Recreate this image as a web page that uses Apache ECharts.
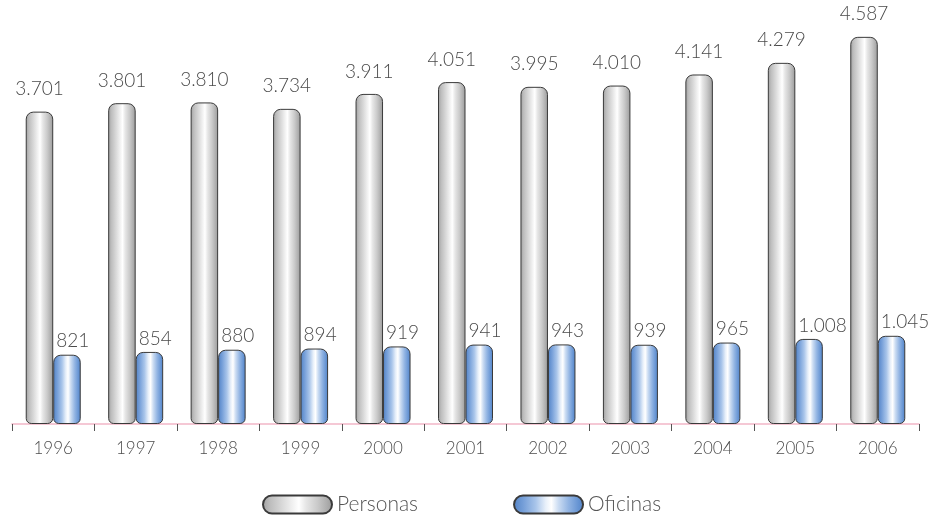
<!DOCTYPE html>
<html>
<head>
<meta charset="utf-8">
<title>Personas y Oficinas 1996-2006</title>
<script src="https://cdn.jsdelivr.net/npm/echarts@6/dist/echarts.min.js"></script>
<style>
  html, body { margin: 0; padding: 0; background: #ffffff; }
  #chart { width: 931px; height: 517px; }
</style>
</head>
<body>
<div id="chart"></div>
<script>
const years = ['1996', '1997', '1998', '1999', '2000', '2001', '2002', '2003', '2004', '2005', '2006'];
const personas = [3701, 3801, 3810, 3734, 3911, 4051, 3995, 4010, 4141, 4279, 4587];
const oficinas = [821, 854, 880, 894, 919, 941, 943, 939, 965, 1008, 1045];

// Thousands separator as a dot: 3701 -> "3.701"
function fmt(v) {
  return String(v).replace(/\B(?=(\d{3})+(?!\d))/g, '.');
}

const G = echarts.graphic.LinearGradient;
const grayFill = new G(0, 0, 1, 0, [
  { offset: 0.00, color: '#a0a0a0' },
  { offset: 0.12, color: '#bebebe' },
  { offset: 0.28, color: '#d8d8d8' },
  { offset: 0.42, color: '#efefef' },
  { offset: 0.52, color: '#ffffff' },
  { offset: 0.62, color: '#e6e6e6' },
  { offset: 0.78, color: '#cacaca' },
  { offset: 0.92, color: '#acacac' },
  { offset: 1.00, color: '#999999' }
]);
const blueFill = new G(0, 0, 1, 0, [
  { offset: 0.00, color: '#5182c6' },
  { offset: 0.15, color: '#77a0d9' },
  { offset: 0.32, color: '#a9c5ea' },
  { offset: 0.46, color: '#e8f0fa' },
  { offset: 0.54, color: '#ffffff' },
  { offset: 0.64, color: '#cbdcf2' },
  { offset: 0.78, color: '#93b5e3' },
  { offset: 0.92, color: '#6694d3' },
  { offset: 1.00, color: '#5182c6' }
]);

const pill = 'path://M9,0 L60,0 A9,9 0 0 1 60,18 L9,18 A9,9 0 0 1 9,0 Z';
const labelFont = 'Lato, "DejaVu Sans", sans-serif';
const BAR_W = 27.5;

const chart = echarts.init(document.getElementById('chart'), null, { renderer: 'canvas' });
chart.setOption({
  animation: false,
  backgroundColor: '#ffffff',
  grid: { left: 12, right: 12, top: 2, bottom: 93, containLabel: false },
  legend: {
    left: 257,
    top: 489,
    itemWidth: 69,
    itemHeight: 18,
    itemGap: 95,
    textStyle: { fontFamily: labelFont, fontWeight: 300, fontSize: 21, color: '#555555' },
    data: [
      { name: 'Personas', icon: pill },
      { name: 'Oficinas', icon: pill }
    ]
  },
  xAxis: {
    type: 'category',
    data: years,
    offset: 2,
    axisLine: { lineStyle: { color: '#f2b6c8', width: 1.5 } },
    axisTick: { show: true, length: 7, lineStyle: { color: '#555555', width: 1 } },
    axisLabel: { margin: 14, fontFamily: labelFont, fontWeight: 300, fontSize: 17, color: '#4d4d4d' }
  },
  yAxis: {
    type: 'value',
    min: 0,
    max: 5000,
    show: false,
    splitLine: { show: false }
  },
  series: [
    {
      name: 'Personas',
      type: 'bar',
      data: personas,
      barWidth: BAR_W,
      barGap: '0%',
      itemStyle: { color: grayFill, borderColor: '#3a3a3a', borderWidth: 1, borderRadius: [7, 7, 5, 5] },
      label: {
        show: true,
        position: 'top',
        distance: 13,
        formatter: p => fmt(p.value),
        fontFamily: labelFont,
        fontWeight: 300,
        fontSize: 19,
        color: '#4a4a4a'
      }
    },
    {
      name: 'Oficinas',
      type: 'bar',
      data: oficinas,
      barWidth: BAR_W,
      barGap: '0%',
      itemStyle: { color: blueFill, borderColor: '#3a3a3a', borderWidth: 1, borderRadius: [7, 7, 5, 5] },
      label: {
        show: true,
        position: 'top',
        distance: 4,
        align: 'left',
        offset: [-BAR_W / 2 + 3, 0],
        formatter: p => fmt(p.value),
        fontFamily: labelFont,
        fontWeight: 300,
        fontSize: 19,
        color: '#4a4a4a'
      }
    }
  ]
});
</script>
</body>
</html>
